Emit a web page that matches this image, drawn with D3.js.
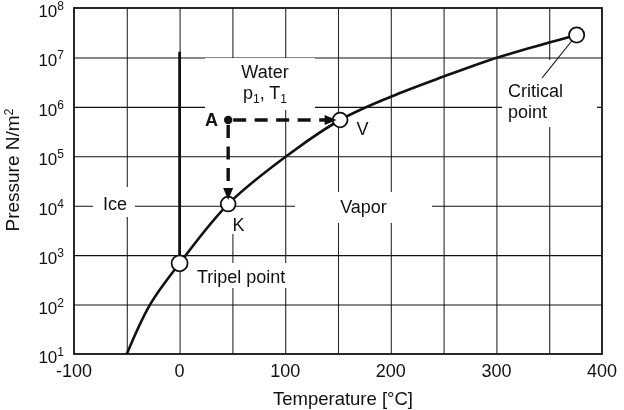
<!DOCTYPE html>
<html><head><meta charset="utf-8">
<script src="https://cdn.jsdelivr.net/npm/d3@7"></script>
<style>
html,body{margin:0;padding:0;background:#fff;}
svg{display:block;font-family:"Liberation Sans",Arial,Helvetica,sans-serif;}
</style>
</head><body>
<svg id="chart" width="624" height="410"></svg>
<script>
// ---- data ----
const xTickLabels = [-100, 0, 100, 200, 300, 400];
const xGridValues = [-50, 0, 50, 100, 150, 200, 250, 300, 350];
const yExponents = [1, 2, 3, 4, 5, 6, 7, 8];
// vapour-pressure (sublimation + boiling) curve
const curveT = [-50, -28, 0, 46, 101, 152, 200, 250, 301, 350, 376];
const curveP = [10, 100, 684, 1.08e4, 1e5, 5.42e5, 1.6e6, 4.1e6, 1e7, 2.0e7, 2.84e7];
// melting line
const meltT = [0, 0];
const meltP = [684, 1.3e7];
// special points
const pointNames = ["Tripel point", "Critical point"];
const pointT = [0, 376];
const pointP = [684, 2.84e7];
// process states
const stateNames = ["A", "V", "K"];
const stateT = [46, 152, 46];
const stateP = [5.42e5, 5.42e5, 1.08e4];
const regionNames = ["Ice", "Water", "Vapor"];

// ---- layout ----
const W = 624, H = 410;
const L = 74, R = 602, T = 8, B = 354;
const x = d3.scaleLinear().domain([-100, 400]).range([L, R]);
const y = d3.scaleLog().domain([10, 1e8]).range([B, T]);
const svg = d3.select("#chart");
const ink = "#111";

// masks for gridline gaps behind labels
const boxes = [
  [93, 187, 42, 30],    // Ice
  [205, 58, 110, 52],   // Water
  [295, 192, 137, 31],  // Vapor
  [192, 263, 101, 25],  // Tripel point
  [502, 60, 95, 67]     // Critical point
];
const defs = svg.append("defs");
function makeMask(id, extra) {
  const m = defs.append("mask").attr("id", id)
    .attr("maskUnits", "userSpaceOnUse")
    .attr("x", 0).attr("y", 0).attr("width", W).attr("height", H);
  m.append("rect").attr("width", W).attr("height", H).attr("fill", "#fff");
  boxes.concat(extra).forEach(b => m.append("rect")
    .attr("x", b[0]).attr("y", b[1]).attr("width", b[2]).attr("height", b[3]).attr("fill", "#000"));
}
makeMask("vmask", [[230, 110, 7, 124]]);
makeMask("hmask", []);

// vertical gridlines via axis
const gx = svg.append("g").attr("mask", "url(#vmask)").append("g")
  .attr("transform", `translate(0,${B})`)
  .call(d3.axisBottom(x).tickValues(xGridValues).tickSize(-(B - T)).tickFormat(""));
gx.select(".domain").remove();
gx.selectAll(".tick line").attr("stroke", "#2a2a2a").attr("stroke-width", 1.1);

// horizontal gridlines via axis
const gy = svg.append("g").attr("mask", "url(#hmask)").append("g")
  .attr("transform", `translate(${L},0)`)
  .call(d3.axisLeft(y).tickValues(yExponents.slice(1, -1).map(e => Math.pow(10, e)))
    .tickSize(-(R - L)).tickFormat(""));
gy.select(".domain").remove();
gy.selectAll(".tick line").attr("stroke", "#111").attr("stroke-width", 1.1);

// plot border
svg.append("rect").attr("x", L).attr("y", T).attr("width", R - L).attr("height", B - T)
  .attr("fill", "none").attr("stroke", ink).attr("stroke-width", 1.8);

// x tick labels
svg.append("g").selectAll("text").data(xTickLabels).join("text")
  .attr("x", d => x(d)).attr("y", 377).attr("text-anchor", "middle")
  .attr("font-size", 18).attr("fill", ink).text(d => d);

// y tick labels 10^n
const yl = svg.append("g").selectAll("text").data(yExponents).join("text")
  .attr("x", 64).attr("y", d => y(Math.pow(10, d)) + 9).attr("text-anchor", "end")
  .attr("font-size", 17).attr("fill", ink);
yl.append("tspan").text("10");
yl.append("tspan").attr("font-size", 12).attr("dy", -7).text(d => d);

// axis titles
svg.append("text").attr("x", 343).attr("y", 405).attr("text-anchor", "middle")
  .attr("font-size", 18.5).attr("fill", ink).text("Temperature [°C]");
const yt = svg.append("text").attr("transform", "translate(19,170) rotate(-90)")
  .attr("text-anchor", "middle").attr("font-size", 19).attr("fill", ink);
yt.append("tspan").text("Pressure N/m");
yt.append("tspan").attr("font-size", 12.5).attr("dy", -6).text("2");

// vapour pressure curve
const pts = curveT.map((t, i) => [x(t), y(curveP[i])]);
svg.append("path").attr("d", d3.line().curve(d3.curveCatmullRom.alpha(0.5))(pts))
  .attr("fill", "none").attr("stroke", ink).attr("stroke-width", 2.6);

// melting line
svg.append("path").attr("d", d3.line()(meltT.map((t, i) => [x(t), y(meltP[i])])))
  .attr("fill", "none").attr("stroke", ink).attr("stroke-width", 2.8);

// leader line for critical point
svg.append("line").attr("x1", x(pointT[1]) - 5).attr("y1", y(pointP[1]) + 6)
  .attr("x2", 542).attr("y2", 78).attr("stroke", ink).attr("stroke-width", 1.1);

// circles
svg.append("g").selectAll("circle").data(pointT).join("circle")
  .attr("cx", d => x(d)).attr("cy", (d, i) => y(pointP[i])).attr("r", (d, i) => i === 0 ? 8 : 7.6)
  .attr("fill", "#fff").attr("stroke", ink).attr("stroke-width", 1.8);
svg.append("g").selectAll("circle").data([1, 2]).join("circle")
  .attr("cx", i => x(stateT[i])).attr("cy", i => y(stateP[i])).attr("r", 7.4)
  .attr("fill", "#fff").attr("stroke", ink).attr("stroke-width", 1.8);

// dashed arrows A->V, A->K
const ax = x(stateT[0]), ay = y(stateP[0]);
function arrow(tx, ty) {
  const dx = tx - ax, dy = ty - ay, len = Math.hypot(dx, dy);
  const ux = dx / len, uy = dy / len, hl = 12, hw = 5;
  const bx = tx - ux * hl, by = ty - uy * hl;
  svg.append("line").attr("x1", ax).attr("y1", ay).attr("x2", bx + ux * 1).attr("y2", by + uy * 1)
    .attr("stroke", ink).attr("stroke-width", 3.4)
    .attr("stroke-dasharray", "13,8.5").attr("stroke-dashoffset", 16.5);
  svg.append("path").attr("d",
    `M${tx},${ty}L${bx - uy * hw},${by + ux * hw}L${bx + uy * hw},${by - ux * hw}Z`)
    .attr("fill", ink);
}
arrow(x(stateT[1]) - 3.5, y(stateP[1]));
arrow(x(stateT[2]), y(stateP[2]) - 4);
svg.append("circle").attr("cx", ax).attr("cy", ay).attr("r", 4.2).attr("fill", ink);

// state labels
svg.append("text").attr("x", 211.5).attr("y", 125.5).attr("text-anchor", "middle")
  .attr("font-size", 18).attr("font-weight", "bold").attr("fill", ink).text(stateNames[0]);
svg.append("text").attr("x", 362.5).attr("y", 135).attr("text-anchor", "middle")
  .attr("font-size", 18).attr("fill", ink).text(stateNames[1]);
svg.append("text").attr("x", 238.5).attr("y", 231).attr("text-anchor", "middle")
  .attr("font-size", 18).attr("fill", ink).text(stateNames[2]);

// region labels
svg.append("text").attr("x", 115).attr("y", 210).attr("text-anchor", "middle")
  .attr("font-size", 18).attr("fill", ink).text(regionNames[0]);
svg.append("text").attr("x", 265).attr("y", 78).attr("text-anchor", "middle")
  .attr("font-size", 18).attr("fill", ink).text(regionNames[1]);
const pt = svg.append("text").attr("x", 265).attr("y", 99).attr("text-anchor", "middle")
  .attr("font-size", 18).attr("fill", ink);
pt.append("tspan").text("p");
pt.append("tspan").attr("font-size", 12).attr("dy", 4).text("1");
pt.append("tspan").attr("dy", -4).text(", T");
pt.append("tspan").attr("font-size", 12).attr("dy", 4).text("1");
svg.append("text").attr("x", 363.5).attr("y", 213).attr("text-anchor", "middle")
  .attr("font-size", 18).attr("fill", ink).text(regionNames[2]);

// point labels
svg.append("text").attr("x", 197).attr("y", 283)
  .attr("font-size", 18).attr("fill", ink).text(pointNames[0]);
const cp = svg.append("text").attr("x", 508).attr("y", 97)
  .attr("font-size", 18).attr("fill", ink);
cp.append("tspan").attr("x", 508).text(pointNames[1].split(" ")[0]);
cp.append("tspan").attr("x", 508).attr("dy", 21).text(pointNames[1].split(" ")[1]);
</script>
</body></html>
